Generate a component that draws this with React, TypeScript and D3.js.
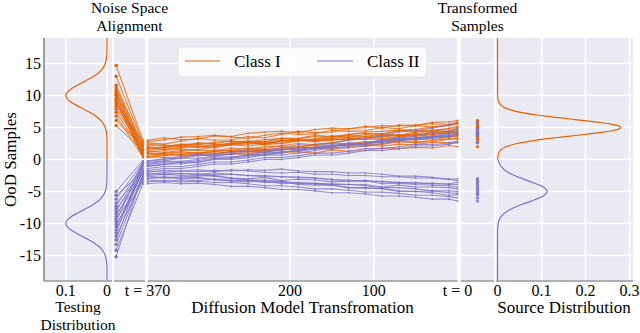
import React from "react";
import * as d3 from "d3";

const ORANGE = "#e66100";
const PURPLE = "#7b72c6";

// time steps of the reverse diffusion (t = 370 ... 0)
const steps = [370, 350, 330, 310, 290, 270, 250, 230, 210, 190, 170, 150, 130, 110, 90, 70, 50, 30, 10, 0];

// OoD test samples before alignment
const classOneSamples = [14.7, 13.0, 11.6, 11.2, 10.8, 10.5, 10.2, 10.0, 9.6, 9.3, 9.0, 8.7, 8.3, 7.9, 7.4, 6.8, 6.1, 5.3];
const classTwoSamples = [-5.0, -5.6, -6.2, -6.8, -7.3, -7.7, -8.1, -8.5, -8.9, -9.3, -9.7, -10.1, -10.5, -11.0, -11.5, -12.0, -12.6, -13.3, -14.2, -15.2];

const classOnePaths = [
  [3.0, 3.4, 3.1, 3.2, 3.7, 3.5, 3.3, 3.8, 4.1, 3.9, 4.0, 4.6, 4.4, 4.5, 5.0, 4.8, 5.3, 5.1, 5.4, 5.6],
  [2.6, 2.4, 2.9, 3.3, 3.0, 3.1, 3.6, 3.4, 3.9, 4.4, 4.2, 4.3, 4.8, 5.2, 4.9, 5.4, 5.3, 5.8, 5.9, 6.1],
  [2.2, 2.3, 2.0, 2.6, 2.5, 2.9, 2.6, 2.8, 3.3, 3.1, 3.2, 3.7, 3.5, 3.9, 4.0, 3.8, 4.3, 4.5, 4.4, 4.8],
  [1.9, 1.6, 1.8, 2.3, 2.1, 2.4, 2.7, 2.3, 2.5, 3.0, 2.8, 3.1, 3.3, 3.2, 3.6, 3.9, 3.6, 3.9, 4.2, 4.3],
  [1.6, 1.9, 2.2, 2.0, 2.1, 2.6, 2.9, 2.7, 3.0, 3.2, 3.6, 3.5, 3.9, 4.1, 4.0, 4.5, 4.6, 4.4, 4.9, 5.2],
  [1.3, 1.1, 1.4, 1.5, 1.3, 1.8, 1.6, 2.0, 2.1, 1.9, 2.4, 2.6, 2.4, 2.8, 2.7, 3.1, 3.2, 3.0, 3.5, 3.6],
  [1.1, 1.4, 1.6, 1.5, 2.0, 2.3, 2.1, 2.4, 2.9, 3.0, 2.9, 3.4, 3.8, 3.6, 4.0, 4.5, 4.3, 4.6, 4.8, 5.0],
  [0.9, 0.7, 0.8, 1.1, 0.9, 1.3, 1.2, 1.1, 1.6, 1.5, 1.8, 1.6, 2.0, 2.2, 2.1, 2.4, 2.3, 2.7, 2.6, 2.9],
  [0.7, 1.0, 1.2, 0.9, 1.5, 1.4, 1.8, 1.7, 2.2, 2.5, 2.3, 2.6, 3.1, 3.2, 3.1, 3.6, 3.9, 4.0, 4.2, 4.5],
  [0.5, 0.3, 0.4, 0.7, 0.5, 0.9, 0.8, 0.7, 1.1, 1.2, 1.0, 1.5, 1.3, 1.4, 1.8, 1.7, 1.9, 1.8, 2.2, 2.0],
  [0.3, 0.6, 0.9, 0.7, 0.8, 1.3, 1.2, 1.5, 1.5, 2.0, 2.2, 2.0, 2.5, 2.6, 2.8, 3.2, 3.0, 3.4, 3.6, 3.7],
  [2.8, 3.1, 3.5, 3.6, 3.8, 3.6, 4.1, 4.3, 4.4, 4.2, 4.7, 4.9, 4.8, 5.0, 5.3, 5.2, 5.4, 5.6, 5.5, 5.9],
  [2.4, 2.1, 2.3, 2.5, 2.4, 2.3, 2.8, 2.6, 2.8, 3.0, 2.9, 3.2, 3.1, 3.4, 3.3, 3.5, 3.8, 3.6, 3.8, 4.0],
  [1.7, 2.0, 2.4, 2.3, 2.7, 2.9, 2.8, 3.1, 3.3, 3.3, 3.8, 3.6, 3.9, 4.3, 4.4, 4.6, 4.7, 5.1, 5.3, 5.6],
  [1.0, 0.7, 1.2, 1.0, 1.2, 1.5, 1.3, 1.4, 1.9, 1.6, 1.9, 2.0, 2.4, 2.1, 2.5, 2.7, 2.8, 2.7, 3.2, 3.3],
  [0.4, 0.9, 0.6, 0.9, 1.2, 1.0, 1.5, 1.4, 1.6, 2.0, 1.7, 2.1, 2.3, 2.4, 2.3, 2.9, 2.6, 3.0, 3.2, 3.2],
  [2.0, 1.8, 2.2, 1.9, 2.3, 2.5, 2.6, 2.4, 3.0, 2.9, 3.2, 3.3, 3.5, 3.6, 3.8, 3.7, 4.1, 4.2, 4.4, 4.7],
  [1.4, 1.6, 1.9, 2.0, 1.8, 2.3, 2.4, 2.6, 2.5, 2.9, 3.1, 3.0, 3.2, 3.6, 3.5, 3.8, 3.9, 4.0, 4.3, 4.1],
];

const classTwoPaths = [
  [-0.2, 0.1, 0.2, 0.6, 0.7, 0.8, 1.3, 1.2, 1.4, 1.9, 1.8, 2.1, 2.6, 2.5, 2.8, 3.3, 3.2, 3.5, 4.0, 4.2],
  [-2.0, -1.7, -1.8, -1.6, -1.9, -1.6, -1.8, -2.0, -2.1, -2.0, -2.3, -2.3, -2.5, -2.5, -2.7, -2.7, -2.9, -2.9, -3.1, -3.0],
  [-0.5, -0.2, 0.2, 0.2, 0.5, 0.9, 0.9, 1.2, 1.6, 1.6, 1.9, 2.3, 2.3, 2.6, 3.0, 3.3, 3.4, 3.7, 4.1, 4.5],
  [-2.3, -2.1, -2.2, -2.3, -2.4, -2.3, -2.5, -2.7, -2.7, -2.9, -2.9, -3.1, -3.4, -3.3, -3.5, -3.6, -3.8, -3.7, -3.9, -3.9],
  [-0.8, -0.5, -0.5, -0.2, 0.2, 0.2, 0.5, 0.9, 1.2, 1.3, 1.6, 2.0, 2.3, 2.4, 2.7, 3.0, 3.4, 3.5, 3.8, 4.1],
  [-2.6, -2.9, -2.7, -2.6, -2.5, -2.9, -3.0, -2.8, -3.3, -3.1, -3.2, -3.5, -3.4, -3.3, -3.8, -3.7, -3.9, -4.0, -4.1, -4.3],
  [-1.1, -0.8, -0.4, -0.5, 0.1, 0.3, 0.7, 0.7, 1.0, 1.6, 1.8, 2.2, 2.2, 2.5, 3.1, 3.3, 3.7, 4.3, 4.5, 4.9],
  [-2.9, -2.7, -2.9, -2.8, -3.2, -3.3, -3.3, -3.6, -3.5, -3.9, -4.0, -4.0, -4.4, -4.5, -4.5, -4.9, -5.0, -4.9, -5.2, -5.3],
  [-1.4, -1.1, -1.1, -0.8, -0.4, -0.4, -0.1, 0.3, 0.3, 0.6, 1.0, 1.0, 1.3, 1.7, 1.7, 2.0, 2.4, 2.3, 2.6, 2.6],
  [-3.2, -3.4, -3.2, -3.3, -3.1, -3.4, -3.5, -3.3, -3.8, -3.6, -3.8, -3.8, -3.9, -3.9, -4.3, -4.0, -4.3, -4.3, -4.4, -4.6],
  [-0.3, 0.0, 0.5, 0.8, 0.8, 1.1, 1.6, 1.5, 1.8, 2.3, 2.2, 2.5, 3.0, 3.3, 3.7, 4.3, 4.5, 4.9, 5.4, 5.7],
  [-3.5, -3.3, -3.5, -3.4, -3.6, -3.6, -3.8, -4.1, -4.1, -4.3, -4.6, -4.6, -4.8, -5.1, -5.1, -5.3, -5.6, -5.6, -5.8, -6.0],
  [-1.7, -1.4, -1.4, -1.1, -0.7, -0.7, -0.4, 0.0, 0.0, 0.3, 0.7, 0.7, 1.0, 1.4, 1.4, 1.7, 2.1, 2.1, 2.4, 2.7],
  [-1.8, -2.0, -1.8, -1.9, -1.7, -1.8, -1.6, -1.7, -1.5, -1.8, -1.9, -1.9, -2.1, -2.1, -2.3, -2.6, -2.6, -2.8, -3.1, -3.3],
  [-0.6, -0.3, -0.3, 0.0, 0.4, 0.4, 0.7, 1.1, 1.1, 1.4, 1.8, 1.8, 2.1, 2.5, 2.9, 2.9, 3.2, 3.6, 3.6, 3.9],
  [-3.0, -2.8, -3.0, -2.9, -3.1, -3.0, -3.2, -3.5, -3.5, -3.7, -3.7, -3.9, -3.9, -4.1, -4.4, -4.4, -4.6, -4.9, -4.9, -5.0],
  [-1.0, -0.7, -0.7, -0.4, 0.0, 0.0, 0.3, 0.7, 0.7, 1.0, 1.4, 1.8, 1.8, 2.1, 2.5, 2.9, 3.3, 3.3, 3.6, 3.8],
  [-2.5, -2.3, -2.5, -2.4, -2.6, -2.9, -3.2, -3.2, -3.4, -3.8, -3.8, -4.0, -4.4, -4.4, -4.6, -5.0, -5.0, -5.2, -5.6, -5.5],
  [-3.8, -3.6, -3.8, -3.7, -3.9, -4.2, -4.2, -4.4, -4.7, -4.7, -4.9, -5.2, -5.2, -5.4, -5.7, -5.7, -5.9, -6.2, -6.2, -6.5],
  [-2.2, -2.4, -2.2, -2.3, -2.1, -2.3, -2.5, -2.5, -2.7, -2.7, -2.9, -3.2, -3.2, -3.4, -3.4, -3.6, -3.6, -3.8, -3.8, -3.6],
];

// testing distribution (upper half, mirrored for the lower class)
const testingY = [19, 17, 16, 15, 14.5, 14, 13.5, 13, 12.5, 12, 11.5, 11, 10.5, 10, 9.5, 9, 8.5, 8, 7.5, 7, 6.5, 6, 5, 4, 3, 0];
const testingDensity = [0, 0.0002, 0.0011, 0.0044, 0.0079, 0.0135, 0.0216, 0.0325, 0.0458, 0.0607, 0.0755, 0.0882, 0.0969, 0.1, 0.0969, 0.0882, 0.0755, 0.0607, 0.0458, 0.0325, 0.0216, 0.0135, 0.0044, 0.0011, 0.0002, 0];

// source distribution
const sourceUpperY = [19, 10, 9, 8.5, 8, 7.5, 7, 6.75, 6.5, 6.25, 6, 5.75, 5.5, 5.25, 5, 4.75, 4.5, 4.25, 4, 3.75, 3.5, 3.25, 3, 2.5, 2, 1.5, 1, 0];
const sourceUpperDensity = [0, 0.0002, 0.0025, 0.0075, 0.0195, 0.044, 0.086, 0.113, 0.144, 0.176, 0.208, 0.237, 0.26, 0.275, 0.28, 0.275, 0.26, 0.237, 0.208, 0.176, 0.144, 0.113, 0.086, 0.044, 0.0195, 0.0075, 0.0025, 0.0002];
const sourceLowerY = [0, -1, -2, -2.5, -3, -3.5, -4, -4.5, -5, -5.5, -6, -6.5, -7, -7.5, -8, -9, -10, -11, -12, -19];
const sourceLowerDensity = [0.0015, 0.0071, 0.0238, 0.0383, 0.0565, 0.0766, 0.095, 0.108, 0.113, 0.108, 0.095, 0.0766, 0.0565, 0.0383, 0.0238, 0.0071, 0.0015, 0.0002, 0, 0];

const yTicks = [-15, -10, -5, 0, 5, 10, 15];
const testTicks = [0.1, 0];
const stepTicks = [370, 200, 100, 0];
const stepLabels = ["t = 370", "200", "100", "t = 0"];
const sourceTicks = [0, 0.1, 0.2, 0.3];

const TOP = 38;
const BOTTOM = 281;
const FONT = '"Liberation Serif", "Times New Roman", Times, "DejaVu Serif", serif';

const y = d3.scaleLinear().domain([-19, 19]).range([BOTTOM, TOP]);
const xTest = d3.scaleLinear().domain([0.153, -0.012]).range([44, 112]);
const xAlign = d3.scaleLinear().domain([-0.08, 1.08]).range([114, 145]);
const xStep = d3.scaleLinear().domain([370, 0]).range([147.5, 457.5]);
const xOut = d3.scaleLinear().domain([0, 1]).range([461, 494]);
const xSource = d3.scaleLinear().domain([-0.0034, 0.308]).range([496, 633]);

const panels = [xTest, xAlign, xStep, xOut, xSource];

const densityLine = (scale: d3.ScaleLinear<number, number>) =>
  d3
    .line<[number, number]>()
    .x((d) => scale(d[1]))
    .y((d) => y(d[0]))
    .curve(d3.curveMonotoneY);

const stepLine = d3
  .line<number>()
  .x((_, i) => xStep(steps[i]))
  .y((d) => y(d));

const Label = (props: any) => (
  <text style={{ fontFamily: FONT }} fill="#000" {...props} />
);

const App = () => {
  const testLine = densityLine(xTest);
  const srcLine = densityLine(xSource);
  const testUpper = testingY.map((v, i) => [v, testingDensity[i]] as [number, number]);
  const testLower = testingY.map((v, i) => [-v, testingDensity[i]] as [number, number]).reverse();
  const srcUpper = sourceUpperY.map((v, i) => [v, sourceUpperDensity[i]] as [number, number]);
  const srcLower = sourceLowerY.map((v, i) => [v, sourceLowerDensity[i]] as [number, number]);

  const groups = [
    { color: ORANGE, samples: classOneSamples, paths: classOnePaths },
    { color: PURPLE, samples: classTwoSamples, paths: classTwoPaths },
  ];

  return (
    <svg width={640} height={333} style={{ position: "absolute", left: 0, top: 0, fontFamily: FONT }}>
      <rect width={640} height={333} fill="#fff" />
      {panels.map((s, i) => {
        const [x0, x1] = s.range();
        return <rect key={i} x={x0} y={TOP} width={x1 - x0} height={BOTTOM - TOP} fill="#eaeaf2" />;
      })}
      {/* grid */}
      {panels.map((s, i) => {
        const [x0, x1] = s.range();
        return yTicks.map((t) => (
          <line key={`g${i}${t}`} x1={x0} x2={x1} y1={y(t)} y2={y(t)} stroke="#fff" strokeWidth={1.5} />
        ));
      })}
      {testTicks.map((t) => (
        <line key={`tt${t}`} x1={xTest(t)} x2={xTest(t)} y1={TOP} y2={BOTTOM} stroke="#fff" strokeWidth={1.5} />
      ))}
      {stepTicks.map((t) => (
        <line key={`st${t}`} x1={xStep(t)} x2={xStep(t)} y1={TOP} y2={BOTTOM} stroke="#fff" strokeWidth={1.5} />
      ))}
      {sourceTicks.map((t) => (
        <line key={`so${t}`} x1={xSource(t)} x2={xSource(t)} y1={TOP} y2={BOTTOM} stroke="#fff" strokeWidth={1.5} />
      ))}

      {/* testing distribution */}
      <path d={testLine(testUpper) || ""} fill="none" stroke={ORANGE} strokeWidth={1.2} />
      <path d={testLine(testLower) || ""} fill="none" stroke={PURPLE} strokeWidth={1.2} />

      {/* alignment, trajectories, transformed samples */}
      {groups.map((g, gi) => (
        <g key={gi} stroke={g.color} fill={g.color}>
          {g.paths.map((p, i) => (
            <g key={i}>
              <line
                x1={xAlign(0)}
                y1={y(g.samples[i])}
                x2={xAlign(1)}
                y2={y(p[0])}
                strokeWidth={1}
                strokeOpacity={0.85}
              />
              <circle cx={xAlign(0)} cy={y(g.samples[i])} r={1.7} stroke="none" />
              <circle cx={xAlign(1)} cy={y(p[0])} r={1} stroke="none" />
              <path d={stepLine(p) || ""} fill="none" strokeWidth={1.1} strokeOpacity={0.75} />
              {p.map((v, j) => (
                <circle key={j} cx={xStep(steps[j])} cy={y(v)} r={1} stroke="none" fillOpacity={0.75} />
              ))}
              <circle cx={xOut(0.5)} cy={y(p[p.length - 1])} r={1.7} stroke="none" fillOpacity={0.85} />
            </g>
          ))}
        </g>
      ))}

      {/* source distribution */}
      <path d={srcLine(srcUpper) || ""} fill="none" stroke={ORANGE} strokeWidth={1.2} />
      <path d={srcLine(srcLower) || ""} fill="none" stroke={PURPLE} strokeWidth={1.2} />

      {/* spines */}
      <line x1={44} x2={44} y1={TOP} y2={BOTTOM} stroke="#444" strokeWidth={1} />
      {panels.map((s, i) => {
        const [x0, x1] = s.range();
        return <line key={`b${i}`} x1={x0} x2={x1} y1={BOTTOM} y2={BOTTOM} stroke="#999" strokeWidth={1.5} />;
      })}

      {/* y axis */}
      {yTicks.map((t) => (
        <Label key={`yl${t}`} x={41} y={y(t) + 5.5} textAnchor="end" fontSize={16}>
          {t}
        </Label>
      ))}
      <Label transform={`translate(16,${y(0)}) rotate(-90)`} textAnchor="middle" fontSize={17}>
        OoD Samples
      </Label>

      {/* x tick labels */}
      {testTicks.map((t) => (
        <Label key={`xl${t}`} x={xTest(t)} y={296} textAnchor="middle" fontSize={16}>
          {t}
        </Label>
      ))}
      {stepTicks.map((t, i) => (
        <Label key={`sl${t}`} x={xStep(t)} y={296} textAnchor="middle" fontSize={16}>
          {stepLabels[i]}
        </Label>
      ))}
      {sourceTicks.map((t) => (
        <Label key={`ol${t}`} x={xSource(t)} y={296} textAnchor="middle" fontSize={16}>
          {t}
        </Label>
      ))}

      {/* panel labels */}
      <Label x={78} y={312} textAnchor="middle" fontSize={15.5}>Testing</Label>
      <Label x={78} y={330} textAnchor="middle" fontSize={15.5}>Distribution</Label>
      <Label x={302.5} y={313} textAnchor="middle" fontSize={17}>Diffusion Model Transfromation</Label>
      <Label x={564} y={313} textAnchor="middle" fontSize={17}>Source Distribution</Label>
      <Label x={129.5} y={13} textAnchor="middle" fontSize={15.5}>Noise Space</Label>
      <Label x={129.5} y={31} textAnchor="middle" fontSize={15.5}>Alignment</Label>
      <Label x={477.5} y={13} textAnchor="middle" fontSize={15.5}>Transformed</Label>
      <Label x={477.5} y={31} textAnchor="middle" fontSize={15.5}>Samples</Label>

      {/* legend */}
      <rect x={178} y={47} width={249} height={30} rx={4} fill="#fff" fillOpacity={0.85} stroke="#ddd" strokeWidth={0.8} />
      <line x1={185} x2={220} y1={61} y2={61} stroke={ORANGE} strokeWidth={1.2} />
      <Label x={234} y={67} fontSize={17}>Class I</Label>
      <line x1={317} x2={353} y1={61} y2={61} stroke={PURPLE} strokeWidth={1.2} />
      <Label x={367} y={67} fontSize={17}>Class II</Label>
    </svg>
  );
};

export default App;
